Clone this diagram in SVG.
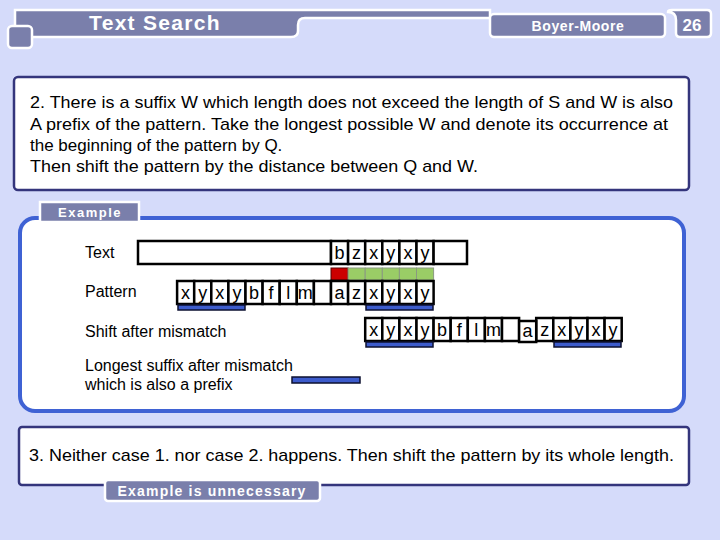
<svg xmlns="http://www.w3.org/2000/svg" width="720" height="540" viewBox="0 0 720 540">
<defs>
<style>
.hdr{fill:#7a7fab;stroke:#ffffff;stroke-width:2.5}
.ht{font-family:"Liberation Sans",Arial,sans-serif;font-weight:bold;fill:#ffffff}
.box{fill:#ffffff;stroke:#34357c;stroke-width:2.5}
.bt{font-family:"Liberation Sans",Arial,sans-serif;font-size:17px;fill:#000000}
.lbl{font-family:"Liberation Sans",Arial,sans-serif;font-size:16px;fill:#000000}
.cell{fill:#ffffff;stroke:#000000;stroke-width:2.5}
.ct{font-family:"Liberation Sans",Arial,sans-serif;font-size:18px;fill:#000000;text-anchor:middle}
.ul{fill:#3d5ccc;stroke:#0d1030;stroke-width:1.5}
.red{fill:#cc0000;stroke:#550000;stroke-width:1}
.grn{fill:#9acd66;stroke:#8a9a80;stroke-width:1}
</style>
</defs>
<rect x="0" y="0" width="720" height="540" fill="#d5dbfa"/>

<g id="header">
<path class="hdr" d="M15,10 H490 V18 H305 Q298,18 298,25 V31 Q298,37 291,37 H15 Z"/>
<rect class="hdr" x="8" y="26" width="24" height="22" rx="4"/>
<text class="ht" x="155" y="30" font-size="21" text-anchor="middle" letter-spacing="1.3">Text Search</text>
<rect class="hdr" x="490" y="14" width="175" height="23" rx="4"/>
<text class="ht" x="578" y="31" font-size="14" text-anchor="middle" letter-spacing="0.6">Boyer-Moore</text>
<path class="hdr" d="M668,12 Q676,12 676,20 V33 Q676,37 680,37 H707 Q711,37 711,33 V14 Q711,10 707,10 H672 Q668,10 668,12 Z"/>
<text class="ht" x="692" y="31" font-size="17" text-anchor="middle">26</text>
</g>

<g id="case2">
<rect class="box" x="14" y="77" width="675" height="113" rx="4"/>
<text class="bt" x="30" y="108" textLength="643" lengthAdjust="spacingAndGlyphs">2. There is a suffix W which length does not exceed the length of S and W is also</text>
<text class="bt" x="30" y="130" textLength="638" lengthAdjust="spacingAndGlyphs">A prefix of the pattern. Take the longest possible W and denote its occurrence at</text>
<text class="bt" x="30" y="151">the beginning of the pattern by Q.</text>
<text class="bt" x="30" y="172" textLength="448" lengthAdjust="spacingAndGlyphs">Then shift the pattern by the distance between Q and W.</text>
</g>

<g id="example">
<rect x="20" y="218" width="664" height="193" rx="15" fill="#ffffff" stroke="#3f62d4" stroke-width="4"/>
<rect class="hdr" x="40" y="202" width="99" height="20"/>
<text class="ht" x="90" y="217" font-size="13" text-anchor="middle" letter-spacing="1.5">Example</text>
<text class="lbl" x="85" y="258">Text</text>
<text class="lbl" x="85" y="297">Pattern</text>
<text class="lbl" x="85" y="337">Shift after mismatch</text>
<text class="lbl" x="85" y="371">Longest suffix after mismatch</text>
<text class="lbl" x="85" y="390">which is also a prefix</text>
</g>

<g id="text-row">
<rect class="cell" x="138" y="241" width="193" height="23"/>
<rect class="cell" x="331" y="241" width="17.1" height="23"/>
<rect class="cell" x="348.1" y="241" width="17.1" height="23"/>
<rect class="cell" x="365.2" y="241" width="17.1" height="23"/>
<rect class="cell" x="382.3" y="241" width="17.1" height="23"/>
<rect class="cell" x="399.4" y="241" width="17.1" height="23"/>
<rect class="cell" x="416.5" y="241" width="17.1" height="23"/>
<rect class="cell" x="433.6" y="241" width="33.4" height="23"/>
<text class="ct" x="339.5" y="259">b</text>
<text class="ct" x="356.6" y="259">z</text>
<text class="ct" x="373.7" y="259">x</text>
<text class="ct" x="390.8" y="259">y</text>
<text class="ct" x="407.9" y="259">x</text>
<text class="ct" x="425" y="259">y</text>
</g>

<g id="compare-row">
<rect class="red" x="331" y="268" width="17.1" height="12"/>
<rect class="grn" x="348.1" y="268" width="17.1" height="12"/>
<rect class="grn" x="365.2" y="268" width="17.1" height="12"/>
<rect class="grn" x="382.3" y="268" width="17.1" height="12"/>
<rect class="grn" x="399.4" y="268" width="17.1" height="12"/>
<rect class="grn" x="416.5" y="268" width="17.1" height="12"/>
</g>

<g id="pattern-row">
<rect class="cell" x="177.1" y="281" width="17.1" height="23"/>
<rect class="cell" x="194.2" y="281" width="17.1" height="23"/>
<rect class="cell" x="211.3" y="281" width="17.1" height="23"/>
<rect class="cell" x="228.4" y="281" width="17.1" height="23"/>
<rect class="cell" x="245.5" y="281" width="17.1" height="23"/>
<rect class="cell" x="262.6" y="281" width="17.1" height="23"/>
<rect class="cell" x="279.7" y="281" width="17.1" height="23"/>
<rect class="cell" x="296.8" y="281" width="17.1" height="23"/>
<rect class="cell" x="313.9" y="281" width="17.1" height="23"/>
<rect class="cell" x="331" y="281" width="17.1" height="23"/>
<rect class="cell" x="348.1" y="281" width="17.1" height="23"/>
<rect class="cell" x="365.2" y="281" width="17.1" height="23"/>
<rect class="cell" x="382.3" y="281" width="17.1" height="23"/>
<rect class="cell" x="399.4" y="281" width="17.1" height="23"/>
<rect class="cell" x="416.5" y="281" width="17.1" height="23"/>
<text class="ct" x="185.6" y="299">x</text>
<text class="ct" x="202.7" y="299">y</text>
<text class="ct" x="219.8" y="299">x</text>
<text class="ct" x="236.9" y="299">y</text>
<text class="ct" x="254" y="299">b</text>
<text class="ct" x="271.1" y="299">f</text>
<text class="ct" x="288.2" y="299">l</text>
<text class="ct" x="305.3" y="299">m</text>
<text class="ct" x="339.5" y="299">a</text>
<text class="ct" x="356.6" y="299">z</text>
<text class="ct" x="373.7" y="299">x</text>
<text class="ct" x="390.8" y="299">y</text>
<text class="ct" x="407.9" y="299">x</text>
<text class="ct" x="425" y="299">y</text>
<rect class="ul" x="178" y="305" width="67" height="5"/>
<rect class="ul" x="366" y="305" width="67" height="5"/>
</g>

<g id="shift-row">
<rect class="cell" x="365.2" y="318" width="17.1" height="23"/>
<rect class="cell" x="382.3" y="318" width="17.1" height="23"/>
<rect class="cell" x="399.4" y="318" width="17.1" height="23"/>
<rect class="cell" x="416.5" y="318" width="17.1" height="23"/>
<rect class="cell" x="433.6" y="318" width="17.1" height="23"/>
<rect class="cell" x="450.7" y="318" width="17.1" height="23"/>
<rect class="cell" x="467.8" y="318" width="17.1" height="23"/>
<rect class="cell" x="484.9" y="318" width="17.1" height="23"/>
<rect class="cell" x="502" y="318" width="17.1" height="23"/>
<rect class="cell" x="536.2" y="318" width="17.1" height="23"/>
<rect class="cell" x="553.3" y="318" width="17.1" height="23"/>
<rect class="cell" x="570.4" y="318" width="17.1" height="23"/>
<rect class="cell" x="587.5" y="318" width="17.1" height="23"/>
<rect class="cell" x="604.6" y="318" width="17.1" height="23"/>
<rect class="cell" x="519.1" y="321" width="17.1" height="21"/>
<text class="ct" x="373.7" y="336">x</text>
<text class="ct" x="390.8" y="336">y</text>
<text class="ct" x="407.9" y="336">x</text>
<text class="ct" x="425" y="336">y</text>
<text class="ct" x="442.1" y="336">b</text>
<text class="ct" x="459.2" y="336">f</text>
<text class="ct" x="476.3" y="336">l</text>
<text class="ct" x="493.4" y="336">m</text>
<text class="ct" x="527.6" y="337">a</text>
<text class="ct" x="544.7" y="336">z</text>
<text class="ct" x="561.8" y="336">x</text>
<text class="ct" x="578.9" y="336">y</text>
<text class="ct" x="596" y="336">x</text>
<text class="ct" x="613.1" y="336">y</text>
<rect class="ul" x="366" y="342" width="67" height="5"/>
<rect class="ul" x="554" y="342" width="67" height="5"/>
</g>

<g id="legend">
<rect class="ul" x="292" y="377" width="68" height="6"/>
</g>

<g id="case3">
<rect class="box" x="19" y="427" width="670" height="58" rx="3"/>
<text class="bt" x="29" y="461" textLength="645" lengthAdjust="spacingAndGlyphs">3. Neither case 1. nor case 2. happens. Then shift the pattern by its whole length.</text>
<rect class="hdr" x="105" y="480" width="215" height="21" rx="3"/>
<text class="ht" x="212" y="496" font-size="14" text-anchor="middle" letter-spacing="1.2">Example is unnecessary</text>
</g>
</svg>
